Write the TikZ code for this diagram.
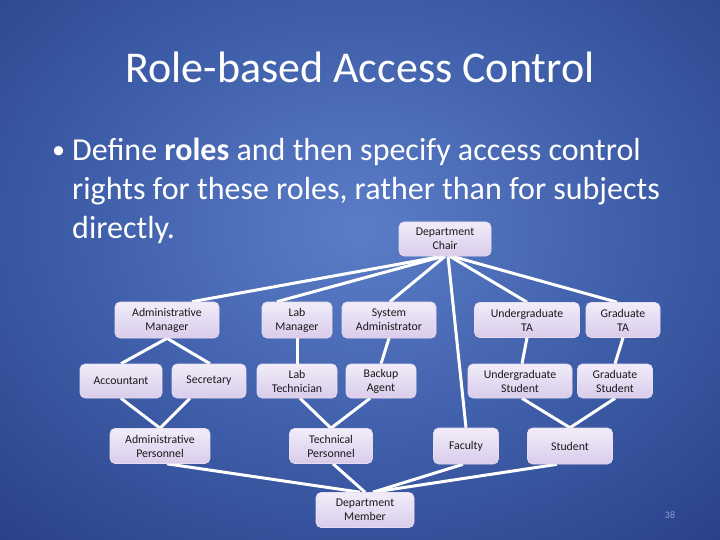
\documentclass[tikz,border=0pt]{standalone}
\usepackage{fontspec}
\setmainfont{Carlito}
\usetikzlibrary{calc}
\definecolor{bgin}{HTML}{5B7DC7}
\definecolor{bgmid}{HTML}{3E5DA8}
\definecolor{bgout}{HTML}{1B2D72}
\definecolor{boxtop}{HTML}{F1ECF9}
\definecolor{boxbot}{HTML}{D9CCEB}
\definecolor{boxline}{HTML}{E6DDF3}
\definecolor{pagenum}{HTML}{8C9BD4}
\pgfdeclareradialshading{bgshade}{\pgfpoint{0bp}{0bp}}{color(0bp)=(bgin); color(18bp)=(bgmid); color(45bp)=(bgout); color(70bp)=(bgout)}
\pgfdeclarelayer{back}
\pgfdeclarelayer{lines}
\pgfsetlayers{back,lines,main}
\tikzset{
  rolebox/.style={draw=boxline, line width=0.6pt, rounded corners=5pt,
    top color=boxtop, bottom color=boxbot, text=black!90,
    font=\fontsize{11.8}{14}\selectfont, align=center, inner sep=1pt},
  conn/.style={draw=white, line width=3pt},
  titletext/.style={text=white, font=\fontsize{44}{48}\selectfont, inner sep=0pt},
  bodytext/.style={text=white, font=\fontsize{32}{38}\selectfont, inner sep=0pt, anchor=base west}
}
\begin{document}
\begin{tikzpicture}[x=1pt,y=-1pt]
\useasboundingbox (0,0) rectangle (720,540);
\begin{pgfonlayer}{back}
  \begin{scope}
    \clip (0,0) rectangle (720,540);
    \shade[shading=bgshade] (-40,-80) rectangle (760,540);
  \end{scope}
\end{pgfonlayer}

\node[titletext] (title) at (360,67) {Role-based Access Control};
\node[bodytext, font=\fontsize{26}{30}\selectfont] (bullet) at (52,159) {\textbullet};
\node[bodytext] (l1) at (72,161) {Define \textbf{roles} and then specify access control};
\node[bodytext] (l2) at (72,200) {rights for these roles, rather than for subjects};
\node[bodytext] (l3) at (72,238) {directly.};
\node[text=pagenum, font=\fontsize{10}{12}\selectfont, inner sep=0pt] (pg) at (670,515) {38};

\node[rolebox, minimum width=92pt, minimum height=34pt] (chair) at (445,239) {Department\\Chair};
\node[rolebox, minimum width=104pt, minimum height=36pt] (am) at (167,320) {Administrative\\Manager};
\node[rolebox, minimum width=82pt, minimum height=34pt] (acc) at (121,381) {Accountant};
\node[rolebox, minimum width=74pt, minimum height=34pt] (sec) at (209,381) {Secretary};
\node[rolebox, minimum width=100pt, minimum height=35pt] (ap) at (160,446) {Administrative\\Personnel};
\node[rolebox, minimum width=70pt, minimum height=36pt] (lm) at (297,320) {Lab\\Manager};
\node[rolebox, minimum width=94pt, minimum height=36pt] (sa) at (389,320) {System\\Administrator};
\node[rolebox, minimum width=80pt, minimum height=34pt] (lt) at (297,381) {Lab\\Technician};
\node[rolebox, minimum width=70pt, minimum height=34pt] (ba) at (381,381) {Backup\\Agent};
\node[rolebox, minimum width=83pt, minimum height=35pt] (tp) at (331,446) {Technical\\Personnel};
\node[rolebox, minimum width=105pt, minimum height=35pt] (uta) at (527,320) {Undergraduate\\TA};
\node[rolebox, minimum width=74pt, minimum height=35pt] (gta) at (623,320) {Graduate\\TA};
\node[rolebox, minimum width=104pt, minimum height=34pt] (us) at (520,381) {Undergraduate\\Student};
\node[rolebox, minimum width=75pt, minimum height=34pt] (gs) at (615,381) {Graduate\\Student};
\node[rolebox, minimum width=65pt, minimum height=36pt] (fac) at (466,446) {Faculty};
\node[rolebox, minimum width=85pt, minimum height=36pt] (stu) at (570,446) {Student};
\node[rolebox, minimum width=98pt, minimum height=35pt] (dm) at (365,510) {Department\\Member};

\begin{pgfonlayer}{lines}
  \draw[conn] ([xshift=-3pt]chair.south) -- ([xshift=25pt]am.north);
  \draw[conn] ([xshift=-2pt]chair.south) -- ([xshift=-20pt]lm.north);
  \draw[conn] (chair.south) -- ([xshift=1pt]sa.north);
  \draw[conn] ([xshift=3pt]chair.south) -- (fac.north);
  \draw[conn] ([xshift=5pt]chair.south) -- (uta.north);
  \draw[conn] ([xshift=7pt]chair.south) -- ([xshift=-6pt]gta.north);
  \draw[conn] (am.south) -- (acc.north);
  \draw[conn] (am.south) -- ([xshift=1pt]sec.north);
  \draw[conn] (acc.south) -- (ap.north);
  \draw[conn] ([xshift=-19pt]sec.south) -- (ap.north);
  \draw[conn] (lm.south) -- (lt.north);
  \draw[conn] (sa.south) -- (ba.north);
  \draw[conn] ([xshift=3pt]lt.south) -- (tp.north);
  \draw[conn] ([xshift=-11pt]ba.south) -- (tp.north);
  \draw[conn] (uta.south) -- ([xshift=2pt]us.north);
  \draw[conn] (gta.south) -- (gs.north);
  \draw[conn] ([xshift=2pt]us.south) -- (stu.north);
  \draw[conn] (gs.south) -- (stu.north);
  \draw[conn] ([xshift=7pt]ap.south) -- ([xshift=-5pt]dm.north);
  \draw[conn] ([xshift=2pt]tp.south) -- (dm.north);
  \draw[conn] ([xshift=-3pt]fac.south) -- ([xshift=8pt]dm.north);
  \draw[conn] ([xshift=-13pt]stu.south) -- ([xshift=8pt]dm.north);
\end{pgfonlayer}
\end{tikzpicture}
\end{document}
